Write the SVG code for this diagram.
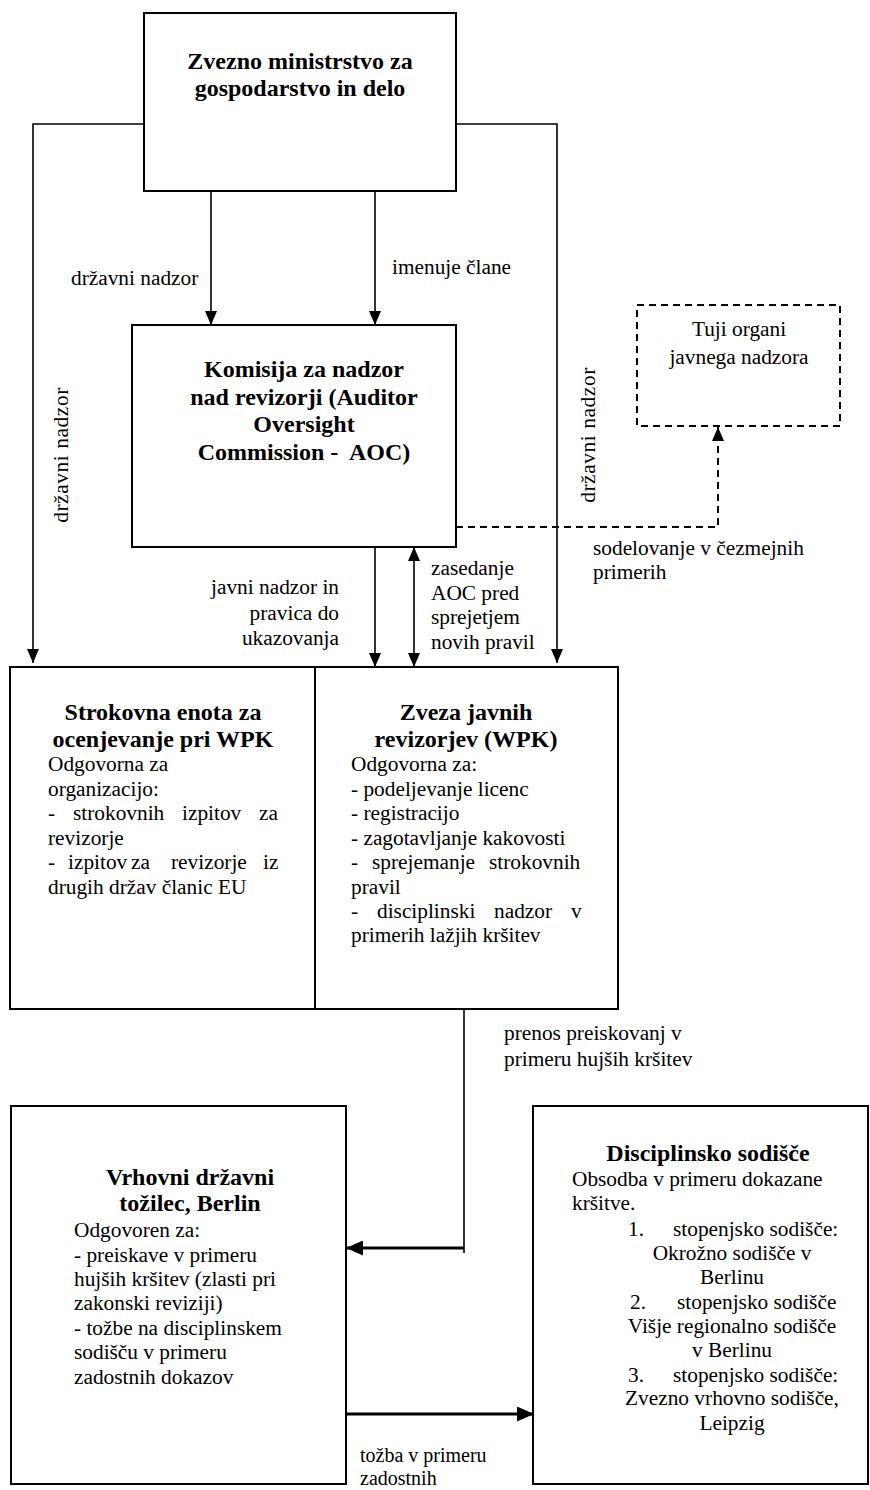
<svg xmlns="http://www.w3.org/2000/svg" width="870" height="1490" viewBox="0 0 870 1490">
<style>
text{font-family:'Liberation Serif','Times New Roman',serif;font-size:21.33px;fill:#000}
.t{font-weight:bold;font-size:24px;text-anchor:middle}
.c{text-anchor:middle}
.e{text-anchor:end}
.sm{font-size:20px}
.box{fill:#fff;stroke:#000;stroke-width:2}
.dbox{fill:#fff;stroke:#000;stroke-width:2;stroke-dasharray:7 5}
.ln{fill:none;stroke:#000;stroke-width:1.6}
.thick{fill:none;stroke:#000;stroke-width:3}
.dash{fill:none;stroke:#000;stroke-width:2;stroke-dasharray:7 5}
</style>
<defs>
<marker id="ah" markerUnits="userSpaceOnUse" markerWidth="14" markerHeight="12" refX="14" refY="6" orient="auto-start-reverse"><path d="M0,0 L14,6 L0,12 z" fill="#000"/></marker>
<marker id="ahb" markerUnits="userSpaceOnUse" markerWidth="17" markerHeight="15" refX="17" refY="7.5" orient="auto"><path d="M0,0 L17,7.5 L0,15 z" fill="#000"/></marker>
</defs>
<g font-family="Liberation Serif, serif">
<g id="connectors">
<path class="ln" d="M144,124 H33 V663" marker-end="url(#ah)"/>
<path class="ln" d="M456,124 H557 V663" marker-end="url(#ah)"/>
<path class="ln" d="M211,191 V325" marker-end="url(#ah)"/>
<path class="ln" d="M375,191 V325" marker-end="url(#ah)"/>
<path class="ln" d="M375,547 V667" marker-end="url(#ah)"/>
<path class="ln" d="M414,547 V667" marker-start="url(#ah)" marker-end="url(#ah)"/>
<path class="dash" d="M456,527 H718 V427" marker-end="url(#ah)"/>
<path class="ln" d="M464,1009 V1253"/>
<path class="thick" d="M464,1248 H346" marker-end="url(#ahb)"/>
<path class="thick" d="M346,1414 H534" marker-end="url(#ahb)"/>
</g>

<g id="labels">
<text x="71" y="285">državni nadzor</text>
<text x="392" y="274">imenuje člane</text>
<text transform="translate(68,455) rotate(-90)" class="c" letter-spacing="0.6">državni nadzor</text>
<text transform="translate(595,435) rotate(-90)" class="c" letter-spacing="0.6">državni nadzor</text>
<text x="593" y="555">sodelovanje v čezmejnih</text>
<text x="593" y="579">primerih</text>
<text x="339" y="594" class="e">javni nadzor in</text>
<text x="339" y="620" class="e">pravica do</text>
<text x="339" y="645" class="e">ukazovanja</text>
<text x="431" y="575">zasedanje</text>
<text x="431" y="600">AOC pred</text>
<text x="431" y="624">sprejetjem</text>
<text x="431" y="649">novih pravil</text>
<text x="504" y="1040">prenos preiskovanj v</text>
<text x="504" y="1066">primeru hujših kršitev</text>
<text x="360" y="1462" class="sm">tožba v primeru</text>
<text x="360" y="1485" class="sm">zadostnih</text>
</g>

<g id="ministrstvo">
<rect class="box" x="144" y="13" width="312" height="178"/>
<text class="t" x="300" y="69">Zvezno ministrstvo za</text>
<text class="t" x="300" y="96">gospodarstvo in delo</text>
</g>

<g id="komisija">
<rect class="box" x="132" y="325" width="324" height="222"/>
<text class="t" x="304" y="377">Komisija za nadzor</text>
<text class="t" x="304" y="405">nad revizorji (Auditor</text>
<text class="t" x="304" y="432">Oversight</text>
<text class="t" x="304" y="460" xml:space="preserve">Commission -  AOC)</text>
</g>

<g id="tuji">
<rect class="dbox" x="637" y="305" width="203" height="121"/>
<text class="c" x="739" y="336">Tuji organi</text>
<text class="c" x="739" y="364">javnega nadzora</text>
</g>

<g id="enota">
<rect class="box" x="10" y="667" width="305" height="342"/>
<text class="t" x="163" y="720">Strokovna enota za</text>
<text class="t" x="163" y="747">ocenjevanje pri WPK</text>
<text x="48" y="771">Odgovorna za</text>
<text x="48" y="796">organizacijo:</text>
<text y="820"><tspan x="48">-</tspan><tspan x="73">strokovnih</tspan><tspan x="182">izpitov</tspan><tspan x="259">za</tspan></text>
<text x="48" y="845">revizorje</text>
<text y="869"><tspan x="48">-</tspan><tspan x="68">izpitov</tspan><tspan x="131">za</tspan><tspan x="171">revizorje</tspan><tspan x="263">iz</tspan></text>
<text x="48" y="894">drugih držav članic EU</text>
</g>

<g id="wpk">
<rect class="box" x="315" y="667" width="303" height="342"/>
<text class="t" x="466" y="720">Zveza javnih</text>
<text class="t" x="466" y="747">revizorjev (WPK)</text>
<text x="351" y="771">Odgovorna za:</text>
<text x="351" y="796">- podeljevanje licenc</text>
<text x="351" y="820">- registracijo</text>
<text x="351" y="845">- zagotavljanje kakovosti</text>
<text y="869"><tspan x="351">-</tspan><tspan x="372">sprejemanje</tspan><tspan x="489">strokovnih</tspan></text>
<text x="351" y="894">pravil</text>
<text y="918"><tspan x="351">-</tspan><tspan x="377">disciplinski</tspan><tspan x="494">nadzor</tspan><tspan x="571">v</tspan></text>
<text x="351" y="942">primerih lažjih kršitev</text>
</g>

<g id="tozilec">
<rect class="box" x="11" y="1106" width="335" height="378"/>
<text class="t" x="190" y="1185">Vrhovni državni</text>
<text class="t" x="190" y="1211">tožilec, Berlin</text>
<text x="74" y="1237">Odgovoren za:</text>
<text x="74" y="1262">- preiskave v primeru</text>
<text x="74" y="1286">hujših kršitev (zlasti pri</text>
<text x="74" y="1310">zakonski reviziji)</text>
<text x="74" y="1335">- tožbe na disciplinskem</text>
<text x="74" y="1359">sodišču v primeru</text>
<text x="74" y="1384">zadostnih dokazov</text>
</g>

<g id="sodisce">
<rect class="box" x="533" y="1106" width="335" height="378"/>
<text class="t" x="708" y="1161">Disciplinsko sodišče</text>
<text x="572" y="1186">Obsodba v primeru dokazane</text>
<text x="572" y="1210">kršitve.</text>
<text y="1236"><tspan x="628">1.</tspan><tspan x="673">stopenjsko sodišče:</tspan></text>
<text class="c" x="732" y="1260">Okrožno sodišče v</text>
<text class="c" x="732" y="1284">Berlinu</text>
<text y="1309"><tspan x="630">2.</tspan><tspan x="677">stopenjsko sodišče</tspan></text>
<text class="c" x="732" y="1333">Višje regionalno sodišče</text>
<text class="c" x="732" y="1357">v Berlinu</text>
<text y="1382"><tspan x="628">3.</tspan><tspan x="673">stopenjsko sodišče:</tspan></text>
<text class="c" x="732" y="1405">Zvezno vrhovno sodišče,</text>
<text class="c" x="732" y="1430">Leipzig</text>
</g>
</g>
</svg>
